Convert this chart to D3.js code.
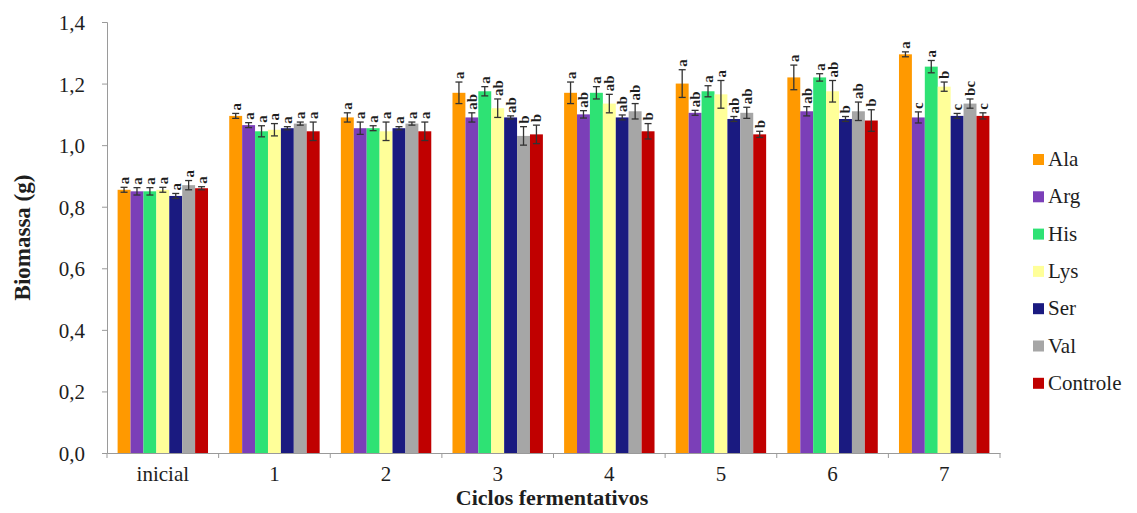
<!DOCTYPE html>
<html><head><meta charset="utf-8">
<script src="https://cdn.jsdelivr.net/npm/d3@7"></script>
<style>body{margin:0;background:#fff}svg{display:block}svg text{font-family:'Liberation Serif',serif}</style>
</head><body>
<svg id="c" width="1137" height="513"></svg>
<script>
const categories = ["inicial","1","2","3","4","5","6","7"];
const seriesNames = ["Ala","Arg","His","Lys","Ser","Val","Controle"];
const colors = ["#FF9900","#7B3FB8","#2EE274","#FFFF99","#1A1A80","#A6A6A6","#C00000"];
const yTicks = [0,0.2,0.4,0.6,0.8,1.0,1.2,1.4];
const Ala      = [0.855,1.095,1.090,1.170,1.170,1.200,1.220,1.295];
const Arg      = [0.850,1.065,1.055,1.090,1.100,1.105,1.110,1.090];
const His      = [0.850,1.045,1.055,1.175,1.170,1.175,1.220,1.255];
const Lys      = [0.855,1.050,1.045,1.120,1.135,1.165,1.175,1.190];
const Ser      = [0.835,1.055,1.055,1.090,1.090,1.085,1.085,1.095];
const Val      = [0.870,1.070,1.070,1.030,1.110,1.105,1.110,1.135];
const Controle = [0.860,1.045,1.045,1.035,1.045,1.035,1.080,1.095];
const errAla      = [0.008,0.008,0.015,0.035,0.035,0.045,0.040,0.008];
const errArg      = [0.012,0.008,0.020,0.015,0.012,0.008,0.015,0.018];
const errHis      = [0.012,0.018,0.008,0.015,0.020,0.018,0.012,0.020];
const errLys      = [0.008,0.020,0.030,0.030,0.030,0.045,0.035,0.015];
const errSer      = [0.008,0.005,0.005,0.005,0.008,0.008,0.008,0.008];
const errVal      = [0.015,0.005,0.005,0.030,0.025,0.018,0.030,0.015];
const errControle = [0.005,0.030,0.030,0.030,0.025,0.010,0.035,0.010];
const letAla      = ["a","a","a","a","a","a","a","a"];
const letArg      = ["a","a","a","ab","ab","ab","ab","c"];
const letHis      = ["a","a","a","a","a","a","a","a"];
const letLys      = ["a","a","a","ab","ab","a","ab","b"];
const letSer      = ["a","a","a","ab","ab","ab","b","c"];
const letVal      = ["a","a","a","b","ab","ab","ab","bc"];
const letControle = ["a","a","a","b","b","b","b","c"];

const vals = [Ala,Arg,His,Lys,Ser,Val,Controle];
const errs = [errAla,errArg,errHis,errLys,errSer,errVal,errControle];
const lets = [letAla,letArg,letHis,letLys,letSer,letVal,letControle];

const svg = d3.select("#c");
const m = {l:107, r:1000, t:22, b:453};
const x0 = d3.scaleBand().domain(categories).range([m.l,m.r]).paddingInner(0.19).paddingOuter(0.095);
const x1 = d3.scaleBand().domain(seriesNames).range([0,x0.bandwidth()]).padding(0);
const y = d3.scaleLinear().domain([0,1.4]).range([m.b,m.t]);
const serif = "Liberation Serif, serif";
const axisCol = "#9a9a9a";
const txtCol = "#1e1e1e";

// y axis
const ya = svg.append("g").attr("transform",`translate(${m.l},0)`)
  .call(d3.axisLeft(y).tickValues(yTicks).tickSize(5).tickFormat(d=>d3.format(".1f")(d).replace(".",",")));
ya.attr("font-family",null);
ya.select(".domain").attr("stroke",axisCol);
ya.selectAll(".tick line").attr("stroke",axisCol);
ya.selectAll(".tick text").style("font-family",serif).style("font-size","21px").attr("fill",txtCol).attr("x",-22).attr("dy","0.36em");

// x axis
const xTickScale = d3.scaleLinear().domain([0,categories.length]).range([m.l,m.r]);
const xa = svg.append("g").attr("transform",`translate(0,${m.b})`)
  .call(d3.axisBottom(x0).tickSize(0).tickPadding(13));
xa.attr("font-family",null);
xa.select(".domain").attr("stroke",axisCol);
xa.selectAll(".tick text").style("font-family",serif).style("font-size","21px").attr("fill",txtCol);
svg.append("g").selectAll("line").data(d3.range(categories.length+1)).join("line")
  .attr("x1",d=>xTickScale(d)).attr("x2",d=>xTickScale(d))
  .attr("y1",m.b).attr("y2",m.b+5).attr("stroke",axisCol);

// bars
const data = [];
categories.forEach((c,i)=>seriesNames.forEach((s,j)=>data.push({c,s,j,v:vals[j][i],e:errs[j][i],l:lets[j][i]})));
const g = svg.append("g");
g.selectAll("rect").data(data).join("rect")
  .attr("x",d=>x0(d.c)+x1(d.s)).attr("width",x1.bandwidth())
  .attr("y",d=>y(d.v)).attr("height",d=>y(0)-y(d.v))
  .attr("fill",d=>colors[d.j]);

// error bars
const eb = svg.append("g").attr("stroke","#333").attr("stroke-width",1.3);
data.forEach(d=>{
  const cx = x0(d.c)+x1(d.s)+x1.bandwidth()/2;
  eb.append("line").attr("x1",cx).attr("x2",cx).attr("y1",y(d.v-d.e)).attr("y2",y(d.v+d.e));
  eb.append("line").attr("x1",cx-3.5).attr("x2",cx+3.5).attr("y1",y(d.v+d.e)).attr("y2",y(d.v+d.e));
  eb.append("line").attr("x1",cx-3.5).attr("x2",cx+3.5).attr("y1",y(d.v-d.e)).attr("y2",y(d.v-d.e));
});

// letters (rotated)
svg.append("g").selectAll("text").data(data).join("text")
  .attr("transform",d=>{
    const cx = x0(d.c)+x1(d.s)+x1.bandwidth()/2+5;
    const ty = y(d.v+d.e)-3;
    return `translate(${cx},${ty}) rotate(-90)`;
  })
  .style("font-family",serif).style("font-weight","bold").style("font-size","15px").attr("fill",txtCol)
  .text(d=>d.l);

// axis titles
svg.append("text").attr("transform",`translate(30,${(m.t+m.b)/2}) rotate(-90)`)
  .attr("text-anchor","middle").style("font-family",serif).style("font-weight","bold").style("font-size","23px")
  .attr("fill",txtCol).text("Biomassa (g)");
svg.append("text").attr("x",552).attr("y",505).attr("text-anchor","middle")
  .style("font-family",serif).style("font-weight","bold").style("font-size","22px").attr("fill",txtCol)
  .text("Ciclos fermentativos");

// legend
const lg = svg.append("g").attr("transform","translate(1033,160)");
seriesNames.forEach((s,j)=>{
  const row = lg.append("g").attr("transform",`translate(0,${j*37.3})`);
  row.append("rect").attr("x",0).attr("y",-6).attr("width",11).attr("height",11).attr("fill",colors[j]);
  row.append("text").attr("x",15).attr("y",6).style("font-family",serif).style("font-size","21px").attr("fill",txtCol).text(s);
});
</script>
</body></html>
